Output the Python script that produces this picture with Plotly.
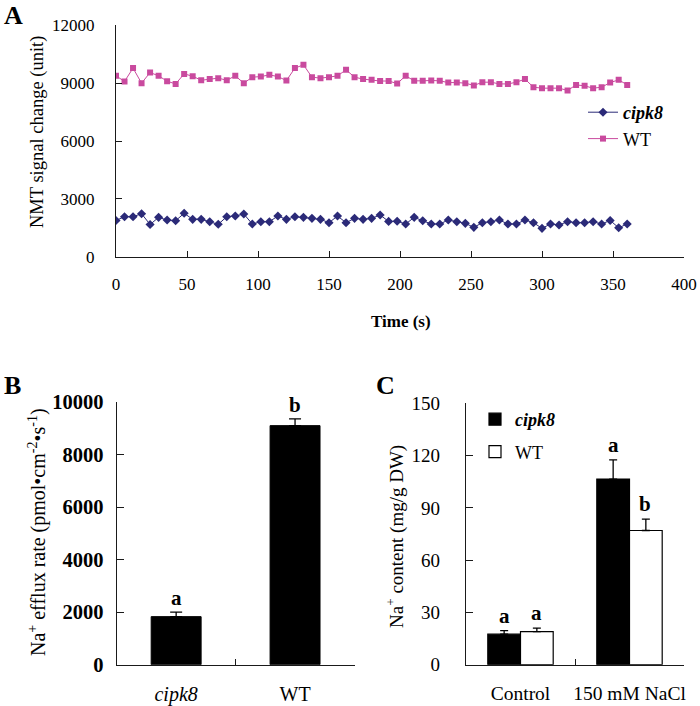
import plotly.graph_objects as go

# ---------------- data ----------------
time_s = [0, 6, 12, 18, 24, 30, 36, 42, 48, 54, 60, 66, 72, 78, 84, 90, 96, 102, 108, 114,
          120, 126, 132, 138, 144, 150, 156, 162, 168, 174, 180, 186, 192, 198, 204, 210,
          216, 222, 228, 234, 240, 246, 252, 258, 264, 270, 276, 282, 288, 294, 300, 306,
          312, 318, 324, 330, 336, 342, 348, 354, 360]
wt_signal = [9380, 9090, 9780, 9000, 9550, 9380, 9100, 8960, 9480, 9360, 9150, 9210, 9260,
             9150, 9380, 9000, 9310, 9340, 9430, 9340, 9135, 9780, 9950, 9310, 9260, 9310,
             9380, 9690, 9310, 9210, 9170, 9110, 9110, 8980, 9380, 9120, 9120, 9140, 9120,
             9030, 9030, 9000, 8880, 9050, 9050, 8960, 8960, 9050, 9210, 8790, 8740, 8740,
             8740, 8620, 8910, 8860, 8740, 8790, 9030, 9170, 8910]
cipk8_signal = [1880, 2075, 2075, 2230, 1670, 2040, 1900, 1867, 2250, 1938, 1938, 1815, 1680,
                2075, 2110, 2215, 1696, 1815, 1815, 2110, 1938, 2075, 2040, 1990, 1938, 1763,
                2110, 1763, 1990, 1938, 1990, 2163, 1830, 1840, 1696, 2040, 1867, 1696, 1696,
                1903, 1815, 1730, 1522, 1763, 1815, 1903, 1696, 1696, 1903, 1763, 1470, 1696,
                1644, 1815, 1763, 1763, 1815, 1696, 1880, 1500, 1696]

b_genotypes = ["cipk8", "WT"]
b_ticktext = ["<i>cipk8</i>", "WT"]
b_efflux = [1830, 9100]
b_err = [170, 260]
b_letters = ["a", "b"]

c_treatments = ["Control", "150 mM NaCl"]
c_cipk8 = [17.5, 106.5]
c_cipk8_err = [2.0, 11.0]
c_wt = [19.0, 77.0]
c_wt_err = [2.0, 6.5]
c_cipk8_letters = ["a", "a"]
c_wt_letters = ["a", "b"]

# ---------------- style ----------------
FONT = "Liberation Serif"
W, H = 700, 706
NAVY = "#2B2A78"
MAGENTA = "#C94A9E"
LINE = "#1a1a1a"


def px_x(p):
    return p / W


def px_y(p):
    return 1 - p / H


fig = go.Figure()

# Panel A
fig.add_trace(go.Scatter(x=time_s, y=cipk8_signal, mode="lines+markers",
                         name="<b><i>cipk8</i></b>", xaxis="x", yaxis="y",
                         line=dict(color=NAVY, width=1),
                         marker=dict(symbol="diamond", size=7, color=NAVY),
                         legend="legend"))
fig.add_trace(go.Scatter(x=time_s, y=wt_signal, mode="lines+markers",
                         name="WT", xaxis="x", yaxis="y",
                         line=dict(color=MAGENTA, width=1),
                         marker=dict(symbol="square", size=6, color=MAGENTA),
                         legend="legend"))

# Panel B
fig.add_trace(go.Bar(x=b_genotypes, y=b_efflux, xaxis="x2", yaxis="y2", width=0.42,
                     marker=dict(color="black", line=dict(color="black", width=1)),
                     error_y=dict(type="data", array=b_err, arrayminus=[0] * len(b_err),
                                  symmetric=False, color="black", thickness=1.3, width=6),
                     showlegend=False))

# Panel C
fig.add_trace(go.Bar(x=c_treatments, y=c_cipk8, name="<b><i>cipk8</i></b>",
                     xaxis="x3", yaxis="y3", offsetgroup="c1", legendgroup="g1",
                     marker=dict(color="black", line=dict(color="black", width=1.2)),
                     error_y=dict(type="data", array=c_cipk8_err,
                                  arrayminus=[0] * len(c_cipk8_err), symmetric=False,
                                  color="black", thickness=1.3, width=4),
                     legend="legend2"))
fig.add_trace(go.Bar(x=c_treatments, y=c_wt, name="WT",
                     xaxis="x3", yaxis="y3", offsetgroup="c2", legendgroup="g2",
                     marker=dict(color="white", line=dict(color="black", width=1.2)),
                     error_y=dict(type="data", array=c_wt_err,
                                  arrayminus=[0] * len(c_wt_err), symmetric=False,
                                  color="black", thickness=1.3, width=4),
                     legend="legend2"))

axis_common = dict(showline=True, linecolor=LINE, linewidth=1.4, showgrid=False,
                   zeroline=False, ticks="inside", tickcolor=LINE, tickwidth=1.3,
                   mirror=False, automargin=False, tickangle=0)

annotations = []
# letters on B
for g, v, e, t in zip(b_genotypes, b_efflux, b_err, b_letters):
    annotations.append(dict(x=g, y=v + e, xref="x2", yref="y2", text=f"<b>{t}</b>",
                            showarrow=False, yanchor="bottom", yshift=0,
                            font=dict(family=FONT, size=21, color="black")))
# letters on C
for g, v, e, t in zip(c_treatments, c_cipk8, c_cipk8_err, c_cipk8_letters):
    annotations.append(dict(x=g, y=v + e, xref="x3", yref="y3", text=f"<b>{t}</b>",
                            showarrow=False, yanchor="bottom", yshift=1, xshift=-16.5,
                            font=dict(family=FONT, size=21, color="black")))
for g, v, e, t in zip(c_treatments, c_wt, c_wt_err, c_wt_letters):
    annotations.append(dict(x=g, y=v + e, xref="x3", yref="y3", text=f"<b>{t}</b>",
                            showarrow=False, yanchor="bottom", yshift=1, xshift=15.5,
                            font=dict(family=FONT, size=21, color="black")))

# panel letters
for lbl, (lx, ly) in {"A": (13, 16), "B": (12, 385), "C": (386, 385)}.items():
    annotations.append(dict(x=px_x(lx), y=px_y(ly), xref="paper", yref="paper",
                            text=f"<b>{lbl}</b>", showarrow=False,
                            xanchor="center", yanchor="middle",
                            font=dict(family=FONT, size=26, color="black")))

# axis titles
annotations += [
    dict(x=px_x(38), y=px_y(132), xref="paper", yref="paper", textangle=-90,
         text="NMT signal change (unit)", showarrow=False, xanchor="center", yanchor="middle",
         font=dict(family=FONT, size=18.5, color="black")),
    dict(x=px_x(401), y=px_y(322), xref="paper", yref="paper",
         text="<b>Time (s)</b>", showarrow=False, xanchor="center", yanchor="middle",
         font=dict(family=FONT, size=17, color="black")),
    dict(x=px_x(37), y=px_y(532), xref="paper", yref="paper", textangle=-90,
         text="Na<sup>+</sup> efflux rate (pmol•cm<sup>-2</sup>•s<sup>-1</sup>)",
         showarrow=False, xanchor="center", yanchor="middle",
         font=dict(family=FONT, size=20, color="black")),
    dict(x=px_x(395), y=px_y(537), xref="paper", yref="paper", textangle=-90,
         text="Na<sup>+</sup> content (mg/g DW)",
         showarrow=False, xanchor="center", yanchor="middle",
         font=dict(family=FONT, size=19, color="black")),
]

fig.update_layout(
    width=W, height=H,
    margin=dict(l=0, r=0, t=0, b=0, autoexpand=False),
    paper_bgcolor="white", plot_bgcolor="white",
    font=dict(family=FONT, color="black"),
    barmode="group", bargap=0.4, bargroupgap=0,
    xaxis=dict(domain=[px_x(116), px_x(684)], range=[0, 400], dtick=50, tick0=0,
               anchor="y", ticklen=6, ticklabelstandoff=12, tickformat="d",
               tickfont=dict(family=FONT, size=17), **axis_common),
    yaxis=dict(domain=[px_y(256.7), px_y(25.3)], range=[0, 12000], dtick=3000,
               anchor="x", ticklen=6, ticklabelstandoff=17, tickformat="d",
               tickfont=dict(family=FONT, size=17), **axis_common),
    xaxis2=dict(domain=[px_x(116.7), px_x(354.5)], anchor="y2", type="category",
                range=[-0.5, 1.5], tickson="boundaries", ticklen=6,
                tickvals=b_genotypes, ticktext=b_ticktext, ticklabelstandoff=11,
                tickfont=dict(family=FONT, size=20), **axis_common),
    yaxis2=dict(domain=[px_y(664.7), px_y(402)], range=[0, 10000], dtick=2000,
                anchor="x2", ticklen=7, ticklabelstandoff=8, tickformat="d",
                tickfont=dict(family=FONT, size=20.5, weight="bold"), **axis_common),
    xaxis3=dict(domain=[px_x(466), px_x(684)], anchor="y3", type="category",
                range=[-0.5, 1.5], tickson="boundaries", ticklen=6,
                ticklabelstandoff=11,
                tickfont=dict(family=FONT, size=19.5), **axis_common),
    yaxis3=dict(domain=[px_y(664.7), px_y(403.3)], range=[0, 150], dtick=30,
                anchor="x3", ticklen=7, ticklabelstandoff=21, tickformat="d",
                tickfont=dict(family=FONT, size=19), **axis_common),
    legend=dict(x=px_x(583), y=px_y(94), xanchor="left", yanchor="top",
                bgcolor="rgba(0,0,0,0)", font=dict(family=FONT, size=18),
                itemwidth=30, tracegroupgap=0),
    legend2=dict(x=px_x(475), y=px_y(401), xanchor="left", yanchor="top",
                 bgcolor="rgba(0,0,0,0)", font=dict(family=FONT, size=18),
                 itemwidth=30, tracegroupgap=6),
    annotations=annotations,
)

fig.write_html(
    "out.html",
    config={"displayModeBar": False},
    post_script="document.body.style.margin='0';"
                "document.documentElement.style.overflow='hidden';",
)
